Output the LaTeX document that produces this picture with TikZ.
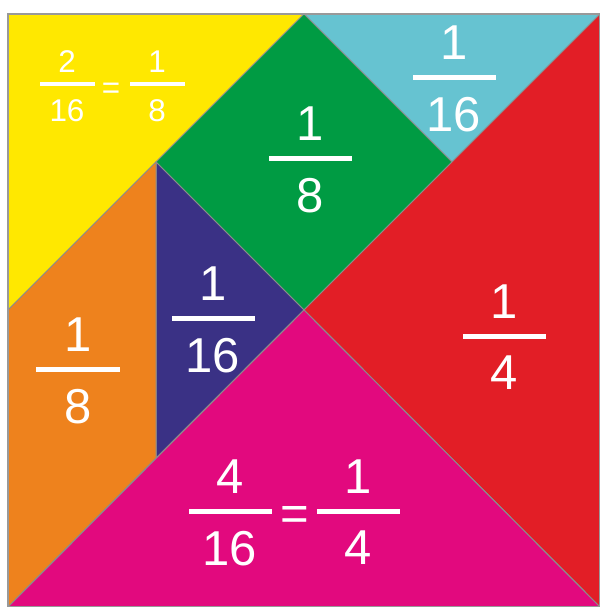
\documentclass[tikz,border=0pt]{standalone}
\usepackage{fontspec}
\setmainfont{Liberation Sans}
\usetikzlibrary{positioning}
\definecolor{TanYellow}{HTML}{FFE800}
\definecolor{TanCyan}{HTML}{66C3D1}
\definecolor{TanGreen}{HTML}{009B43}
\definecolor{TanRed}{HTML}{E21E26}
\definecolor{TanNavy}{HTML}{3A3185}
\definecolor{TanOrange}{HTML}{EE821D}
\definecolor{TanPink}{HTML}{E2097E}

% fraction = bar node with the digits above and below it
\newcommand{\bigfrac}[4]{%
  \node[bar] (#1bar) at (#2) {};
  \node[digits, above=7.25pt of #1bar] (#1num) {#3};
  \node[digits, below=8.25pt of #1bar] (#1den) {#4};}
\newcommand{\smallfrac}[4]{%
  \node[smallbar] (#1bar) at (#2) {};
  \node[smalldigits, above=4.5pt of #1bar] (#1num) {#3};
  \node[smalldigits, below=6.5pt of #1bar] (#1den) {#4};}

\begin{document}
\begin{tikzpicture}[x=0.5pt, y=-0.5pt,
        piece/.style={draw=black!45, line width=0.5pt, line join=round},
        digits/.style={text=white, inner sep=0pt, font=\fontsize{24.5}{28}\selectfont},
        smalldigits/.style={digits, font=\fontsize{15.7}{18}\selectfont},
        bar/.style={fill=white, inner sep=0pt, minimum width=41.5pt, minimum height=2.5pt},
        smallbar/.style={bar, minimum width=27.5pt, minimum height=2pt}]

    \useasboundingbox (0,0) rectangle (600,607);

    % corners and inner points of the square
    \coordinate (tl) at (8,14);
    \coordinate (tm) at (304,14);
    \coordinate (tr) at (600,14);
    \coordinate (ml) at (8,310);
    \coordinate (e) at (156,162);
    \coordinate (f) at (452,162);
    \coordinate (c) at (304,310);
    \coordinate (h) at (156,458);
    \coordinate (bl) at (8,607);
    \coordinate (br) at (600,607);

    \filldraw[piece, fill=TanYellow] (tl) -- (tm) -- (ml) -- cycle;
    \filldraw[piece, fill=TanCyan] (tm) -- (tr) -- (f) -- cycle;
    \filldraw[piece, fill=TanGreen] (tm) -- (f) -- (c) -- (e) -- cycle;
    \filldraw[piece, fill=TanRed] (tr) -- (br) -- (c) -- cycle;
    \filldraw[piece, fill=TanNavy] (e) -- (c) -- (h) -- cycle;
    \filldraw[piece, fill=TanOrange] (ml) -- (e) -- (h) -- (bl) -- cycle;
    \filldraw[piece, fill=TanPink] (bl) -- (c) -- (br) -- cycle;
    \draw[draw=black!40, line width=0.8pt] (tl) rectangle (br);

    \smallfrac{ya}{67,84}{2}{16}
    \node[smalldigits, anchor=base] (yeq) at (111,98) {=};
    \smallfrac{yb}{157,84}{1}{8}

    \bigfrac{cyan}{454,77}{1}{16}
    \bigfrac{green}{310,158}{1}{8}
    \bigfrac{navy}{213,318}{1}{16}
    \bigfrac{red}{504,336}{1}{4}
    \bigfrac{orange}{78,369}{1}{8}

    \bigfrac{pa}{230,511}{4}{16}
    \node[digits, anchor=base] (peq) at (295,530) {=};
    \bigfrac{pb}{358,511}{1}{4}
\end{tikzpicture}
\end{document}
